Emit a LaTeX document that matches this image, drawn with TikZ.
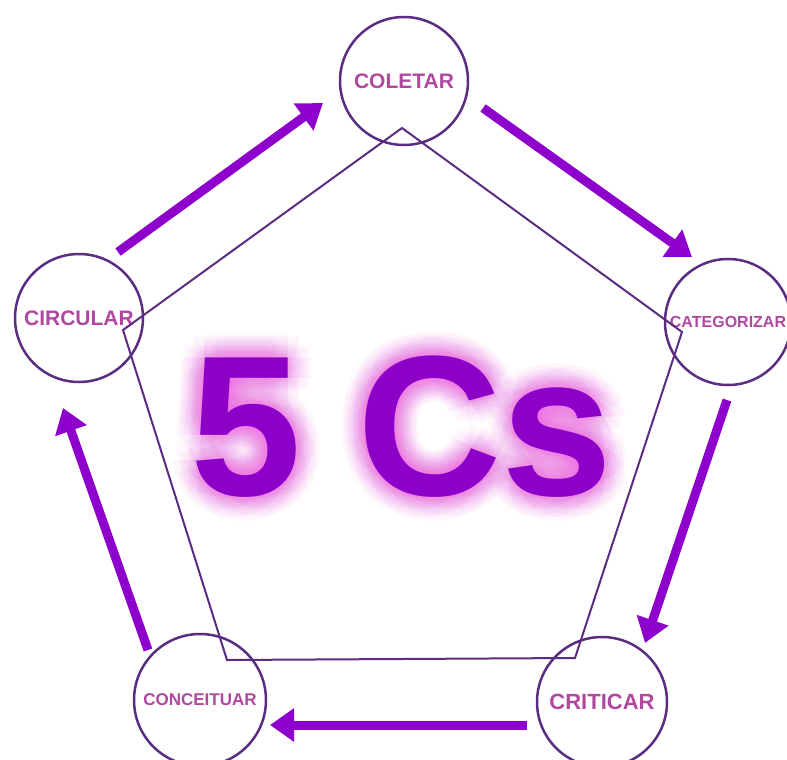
\documentclass[tikz,border=0pt]{standalone}
\usepackage{fontspec}
\setmainfont{Liberation Sans}
\usetikzlibrary{calc, arrows.meta}

\begin{document}
\begin{tikzpicture}[
    x=1pt, y=-1pt,
    ring/.style={circle, draw=mring, line width=2.5pt, inner sep=0pt, minimum size=#1, text=mlbl},
    lbl/.style={font=\bfseries\fontsize{#1}{#1}\selectfont},
    cyc/.style={-{Triangle[length=24pt, width=32pt]}, line width=9pt, draw=marr},
    big/.style={anchor=base, inner sep=0pt, font=\bfseries\fontsize{200}{200}\selectfont},
    glow/.style={big, text=mglow, opacity=0.045}
]

\definecolor{mring}{RGB}{90,45,130}
\definecolor{mlbl}{RGB}{176,72,160}
\definecolor{marr}{RGB}{142,0,204}
\definecolor{mglow}{RGB}{238,110,228}
\definecolor{mtitle}{RGB}{140,0,200}

\useasboundingbox[fill=white] (0,0) rectangle (787,760);

% stages
\node[ring=128pt, lbl=21pt] (coletar) at (404,81) {COLETAR};
\node[ring=126pt, lbl=16pt] (categ) at (728,322) {CATEGORIZAR};
\node[ring=130pt, lbl=22pt] (criticar) at (602,702) {CRITICAR};
\node[ring=132pt, lbl=17pt] (conceit) at (200,700) {CONCEITUAR};
\node[ring=128pt, lbl=21pt] (circular) at (79,318) {CIRCULAR};

% pentagon
\coordinate (p1) at (402,128);
\coordinate (p2) at (682,332);
\coordinate (p3) at (575,658);
\coordinate (p4) at (227,660);
\coordinate (p5) at (123,330);
\draw[mring, line width=2pt, line join=miter] (p1) -- (p2) -- (p3) -- (p4) -- (p5) -- cycle;

% title with halo
\coordinate (title) at (402,495);
\foreach \r in {4,8,12,16,20,24}
    \foreach \a in {0,30,...,330}
        \node[glow] at ($(title)+(\a:\r)$) {5 Cs};
\node[big, text=mtitle] (cs) at (title) {5 Cs};

% cycle arrows
\coordinate (a1s) at (118,252); \coordinate (a1e) at (323,103);
\coordinate (a2s) at (483,108); \coordinate (a2e) at (692,257);
\coordinate (a3s) at (727,400); \coordinate (a3e) at (645,643);
\coordinate (a4s) at (527,725); \coordinate (a4e) at (270,725);
\coordinate (a5s) at (148,650); \coordinate (a5e) at (63,408);

\draw[cyc] (a1s) -- (a1e);
\draw[cyc] (a2s) -- (a2e);
\draw[cyc] (a3s) -- (a3e);
\draw[cyc] (a4s) -- (a4e);
\draw[cyc] (a5s) -- (a5e);

\end{tikzpicture}
\end{document}
